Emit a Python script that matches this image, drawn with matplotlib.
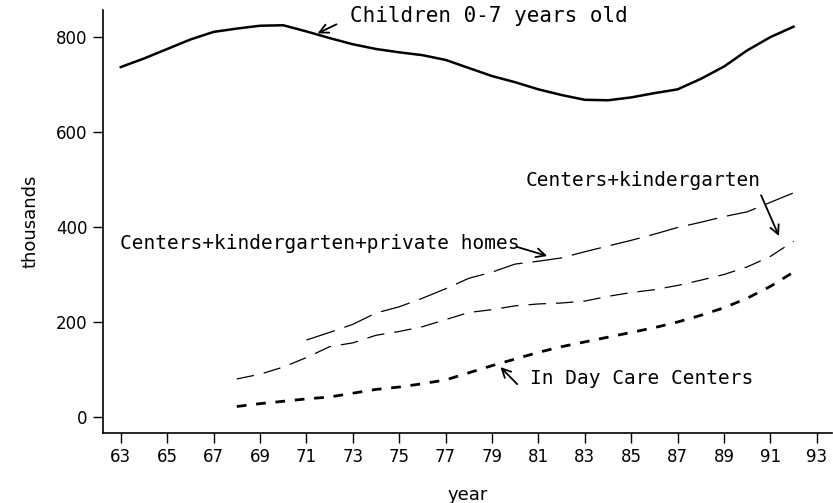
import matplotlib.pyplot as plt

years_children = list(range(63, 93))
children = [737, 755, 775, 795, 811, 818, 824, 825, 812, 798,
            785, 775, 768, 762, 752, 735, 718, 705, 690, 678,
            668, 667, 673, 682, 690, 712, 738, 772, 800, 822]

years_private = list(range(71, 93))
with_private = [162, 178, 195, 219, 232, 250, 270, 292, 305, 322, 328,
                335, 348, 360, 372, 385, 399, 410, 422, 432, 452, 472]

years_kinder = list(range(68, 93))
with_kinder = [80, 90, 105, 125, 148, 156, 172, 180, 190, 205, 220, 226, 234,
               238, 240, 244, 254, 262, 268, 277, 288, 300, 316, 338, 370]

years_daycare = list(range(68, 93))
daycare = [22, 28, 33, 38, 42, 50, 58, 63, 70, 78, 93, 108, 122,
           136, 148, 158, 168, 178, 188, 200, 214, 230, 250, 275, 305]

xticks = list(range(63, 94, 2))
yticks = [0, 200, 400, 600, 800]

fig = plt.figure(figsize=(8.33, 5.03), dpi=100)
ax = fig.add_axes([0.1236, 0.139, 0.875, 0.841])

ax.plot(years_children, children, color='black', lw=1.8)
ax.plot(years_private, with_private, color='black', lw=0.9, dashes=(24, 8))
ax.plot(years_kinder, with_kinder, color='black', lw=0.9, dashes=(14, 8))
ax.plot(years_daycare, daycare, color='black', lw=2.0, dashes=(3.5, 3.5))

ax.set_xlim(62.23, 93.65)
ax.set_ylim(-34, 857)
ax.set_xticks(xticks)
ax.set_yticks(yticks)
ax.tick_params(direction='out', length=7, width=1, labelsize=12, pad=4)
for s in ['top', 'right']:
    ax.spines[s].set_visible(False)
ax.spines['left'].set_linewidth(1.2)
ax.spines['bottom'].set_linewidth(1.2)

ax.set_xlabel('year', fontsize=13, labelpad=14)
ax.set_ylabel('thousands', fontsize=13, labelpad=12)

mono = 'DejaVu Sans Mono'
arrow = dict(arrowstyle='->', color='black', lw=1.3, mutation_scale=16,
             shrinkA=0, shrinkB=0)

# labels
ax.text(72.86, 844, 'Children 0-7 years old', fontsize=15, family=mono, va='center')
ax.text(62.96, 366, 'Centers+kindergarten+private homes', fontsize=14, family=mono, va='center')
ax.text(80.43, 497, 'Centers+kindergarten', fontsize=14, family=mono, va='center')
ax.text(80.65, 82, 'In Day Care Centers', fontsize=14, family=mono, va='center')

# arrows
ax.annotate('', xy=(71.48, 808), xytext=(72.3, 827), arrowprops=arrow)
ax.annotate('', xy=(81.38, 339), xytext=(80.09, 358), arrowprops=arrow)
ax.annotate('', xy=(91.37, 381), xytext=(90.6, 467), arrowprops=arrow)
ax.annotate('', xy=(79.36, 105), xytext=(80.09, 69), arrowprops=arrow)

fig.savefig('out.png', dpi=100)
